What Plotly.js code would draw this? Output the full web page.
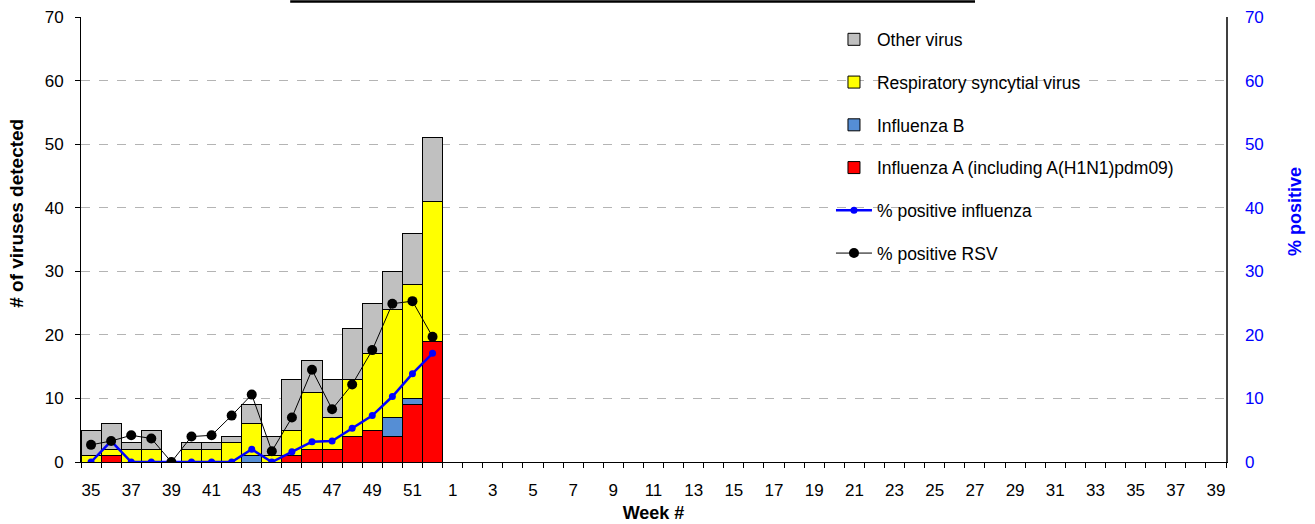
<!DOCTYPE html>
<html>
<head>
<meta charset="utf-8">
<script src="https://cdn.plot.ly/plotly-3.0.1.min.js"></script>
<style>
  html, body { margin: 0; padding: 0; background: #ffffff; }
  #chart { width: 1315px; height: 524px; }
</style>
</head>
<body>
<div id="chart"></div>
<script>
// Week numbers (season week 35 to week 39 of the following year)
var weeks = [35,36,37,38,39,40,41,42,43,44,45,46,47,48,49,50,51,52,
             1,2,3,4,5,6,7,8,9,10,11,12,13,14,15,16,17,18,19,20,
             21,22,23,24,25,26,27,28,29,30,31,32,33,34,35,36,37,38,39];

// Counts per week (weeks 35..52 reported so far)
var influenzaA = [0,1,0,0,0,0,0,0,0,0,1,2,2,4,5,4,9,19];
var influenzaB = [0,0,0,0,0,0,0,0,1,0,0,0,0,0,0,3,1,0];
var rsv        = [1,1,2,2,0,2,2,3,5,1,4,9,5,9,12,17,18,22];
var otherVirus = [4,4,1,3,0,1,1,1,3,3,8,5,6,8,8,6,8,10];

// Percent positive
var pctInfluenza = [0,3.3,0,0,0,0,0,0,2.0,0,1.6,3.2,3.3,5.3,7.3,10.3,13.9,17.1];
var pctRSV       = [2.7,3.3,4.2,3.7,0,4.0,4.2,7.3,10.6,1.7,7.0,14.5,8.3,12.2,17.6,24.9,25.3,19.7];

// Axis titles
var yTitleLeft = '# of viruses detected';
var yTitleRight = '% positive';
var xTitle = 'Week #';

// Category positions (index of each week slot on the axis)
var xAll = weeks.map(function (w, i) { return i; });
var xData = influenzaA.map(function (v, i) { return i; });
var tickVals = xAll.filter(function (i) { return i % 2 === 0; });
var tickText = tickVals.map(function (i) { return String(weeks[i]); });
var minorVals = xAll.map(function (i) { return i - 0.5; }).concat([xAll.length - 0.5]);

var FONT = 'Liberation Sans, Arial, sans-serif';

function barTrace(name, vals, color, rank) {
  return {
    type: 'bar', name: name, x: xData, y: vals, yaxis: 'y',
    marker: { color: color, line: { color: '#000000', width: 1 } },
    legendgroup: name, legendrank: rank, hoverinfo: 'x+y+name'
  };
}

var traces = [
  barTrace('Influenza A (including A(H1N1)pdm09)', influenzaA, '#ff0000', 4),
  barTrace('Influenza B', influenzaB, '#558ed5', 3),
  barTrace('Respiratory syncytial virus', rsv, '#ffff00', 2),
  barTrace('Other virus', otherVirus, '#c0c0c0', 1),
  {
    type: 'scatter', mode: 'lines+markers', name: '% positive influenza',
    x: xData, y: pctInfluenza, yaxis: 'y2',
    line: { color: '#0000ff', width: 2.5 },
    marker: { color: '#0000ff', size: 7 },
    legendgroup: 'pf', legendrank: 5
  },
  {
    type: 'scatter', mode: 'lines+markers', name: '% positive RSV',
    x: xData, y: pctRSV, yaxis: 'y2',
    line: { color: '#000000', width: 1 },
    marker: { color: '#000000', size: 10 },
    legendgroup: 'pr', legendrank: 6
  }
];

var layout = {
  width: 1315, height: 524,
  margin: { l: 81, r: 89, t: 17, b: 62 },
  paper_bgcolor: '#ffffff', plot_bgcolor: '#ffffff',
  font: { family: FONT, size: 17, color: '#000000' },
  barmode: 'stack', bargap: 0,
  showlegend: true,
  legend: {
    x: 0.655, y: 0.99, xanchor: 'left', yanchor: 'top',
    bgcolor: 'rgba(0,0,0,0)', font: { family: FONT, size: 17.5 },
    tracegroupgap: 17, traceorder: 'grouped', itemwidth: 36
  },
  xaxis: {
    range: [-0.5, xAll.length - 0.5],
    tickmode: 'array', tickvals: tickVals, ticktext: tickText,
    ticks: '', showgrid: false, zeroline: false,
    showline: true, linecolor: '#000000', linewidth: 1,
    tickfont: { family: FONT, size: 17 },
    ticklabelstandoff: 13,
    minor: { tickmode: 'array', tickvals: minorVals, ticks: 'outside', ticklen: 5, tickcolor: '#000000', showgrid: false },
    title: { text: '<b>' + xTitle + '</b>', font: { family: FONT, size: 18 }, standoff: 6 }
  },
  yaxis: {
    range: [0, 70], dtick: 10, tick0: 0,
    showgrid: true, gridcolor: '#b4b4b4', griddash: 'dash', gridwidth: 1,
    zeroline: false, showline: true, linecolor: '#000000', linewidth: 1,
    ticks: 'outside', ticklen: 5, tickcolor: '#000000',
    tickfont: { family: FONT, size: 17 },
    ticklabelstandoff: 8
  },
  yaxis2: {
    overlaying: 'y', side: 'right',
    range: [0, 70], dtick: 10, tick0: 0,
    showgrid: false, zeroline: false, showline: true, linecolor: '#404040', linewidth: 1.5,
    ticks: '', tickfont: { family: FONT, size: 17, color: '#0000ff' },
    ticklabelstandoff: 14
  },
  annotations: [
    { text: '<b>' + yTitleLeft + '</b>', xref: 'paper', yref: 'paper', x: -0.0559, y: 0.56,
      xanchor: 'center', yanchor: 'middle', textangle: -90, showarrow: false,
      font: { family: FONT, size: 19, color: '#000000' } },
    { text: '<b>' + yTitleRight + '</b>', xref: 'paper', yref: 'paper', x: 1.0603, y: 0.562,
      xanchor: 'center', yanchor: 'middle', textangle: -90, showarrow: false,
      font: { family: FONT, size: 18, color: '#0000ff' } }
  ],
  shapes: [
    { type: 'line', xref: 'paper', yref: 'paper', x0: 0.1827, x1: 0.7808, y0: 1.035, y1: 1.035,
      line: { color: '#000000', width: 2.5 } }
  ]
};

Plotly.newPlot('chart', traces, layout, { displayModeBar: false, staticPlot: true });
</script>
</body>
</html>
